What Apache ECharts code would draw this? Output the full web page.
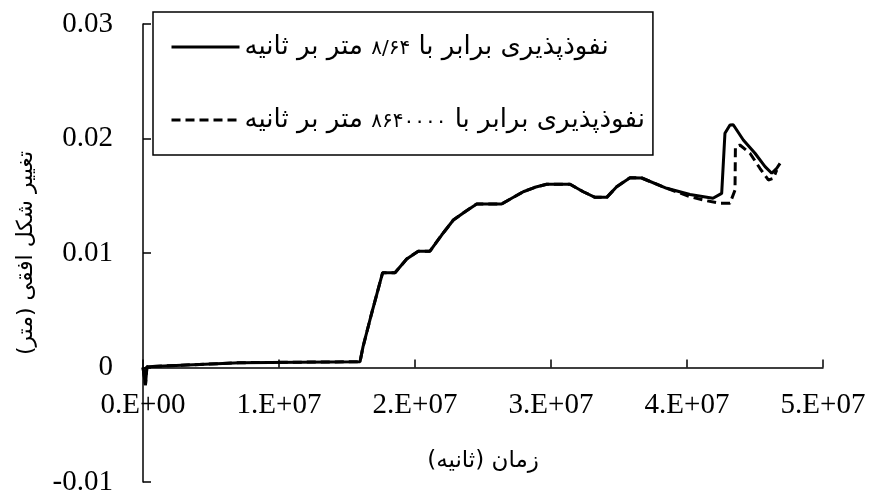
<!DOCTYPE html>
<html>
<head>
<meta charset="utf-8">
<script src="https://cdn.jsdelivr.net/npm/echarts@6/dist/echarts.min.js"></script>
<style>html,body{margin:0;padding:0;background:#fff}#c{width:869px;height:497px}</style>
</head>
<body>
<div id="c"></div>
<script>
// time (s)
const xSolid = [0, 1.8e5, 2.9e5, 7.13e6, 1.596e7, 1.618e7, 1.682e7, 1.762e7, 1.853e7, 1.939e7, 2.024e7, 2.110e7, 2.196e7, 2.282e7, 2.368e7, 2.454e7, 2.637e7, 2.711e7, 2.796e7, 2.882e7, 2.968e7, 3.140e7, 3.237e7, 3.324e7, 3.410e7, 3.483e7, 3.581e7, 3.667e7, 3.851e7, 4.022e7, 4.191e7, 4.255e7, 4.279e7, 4.316e7, 4.340e7, 4.414e7, 4.500e7, 4.574e7, 4.623e7, 4.660e7, 4.684e7];
// horizontal deformation (m), permeability 8.64 m/s
const ySolid = [0, -0.00153, 0.00007, 0.00042, 0.00051, 0.00182, 0.00476, 0.00828, 0.00828, 0.00948, 0.01016, 0.01016, 0.01157, 0.01288, 0.01361, 0.01428, 0.01428, 0.01478, 0.01535, 0.01574, 0.0160, 0.0160, 0.01535, 0.01486, 0.01486, 0.01579, 0.01658, 0.01655, 0.01565, 0.01511, 0.01478, 0.01521, 0.02045, 0.02118, 0.0212, 0.01987, 0.01871, 0.01754, 0.01696, 0.0174, 0.01783];
const xDashed = [0, 1.8e5, 2.9e5, 7.13e6, 1.596e7, 1.618e7, 1.682e7, 1.762e7, 1.853e7, 1.939e7, 2.024e7, 2.110e7, 2.196e7, 2.282e7, 2.368e7, 2.454e7, 2.637e7, 2.711e7, 2.796e7, 2.882e7, 2.968e7, 3.140e7, 3.237e7, 3.324e7, 3.410e7, 3.483e7, 3.581e7, 3.667e7, 3.851e7, 4.022e7, 4.132e7, 4.242e7, 4.316e7, 4.353e7, 4.356e7, 4.389e7, 4.463e7, 4.536e7, 4.598e7, 4.635e7, 4.660e7];
// permeability 8640000 m/s
const yDashed = [0, -0.00153, 0.00007, 0.00042, 0.00051, 0.00182, 0.00476, 0.00828, 0.00828, 0.00948, 0.01016, 0.01016, 0.01157, 0.01288, 0.01361, 0.01428, 0.01428, 0.01478, 0.01535, 0.01574, 0.0160, 0.0160, 0.01535, 0.01486, 0.01486, 0.01579, 0.01658, 0.01655, 0.01565, 0.01492, 0.01459, 0.01434, 0.01434, 0.0155, 0.01928, 0.01943, 0.01871, 0.0174, 0.01638, 0.01652, 0.01725];

const seriesNames = ['نفوذپذیری برابر با ۸/۶۴ متر بر ثانیه', 'نفوذپذیری برابر با ۸۶۴۰۰۰۰ متر بر ثانیه'];
const xTitle = 'زمان (ثانیه)';
const yTitle = 'تغییر شکل افقی (متر)';

const zip = (xs, ys) => xs.map((x, i) => [x, ys[i]]);
const serif = "'Liberation Serif', 'DejaVu Serif', serif";
const fa = "'DejaVu Sans', sans-serif";

// legend label: pieces laid out in visual (left-to-right) order, digits set slightly smaller
function legendLabel(name) {
  const m = name.match(/^(.*?)\s*([۰-۹\/]+)\s*(.*)$/);
  if (!m) return '{t|' + name + '}';
  return '{t|' + m[3] + ' }{d|' + m[2] + '}{t| ' + m[1] + '}';
}

const chart = echarts.init(document.getElementById('c'), null, {renderer: 'canvas'});
chart.setOption({
  animation: false,
  backgroundColor: '#fff',
  grid: {left: 143, right: 46, top: 24, bottom: 15, containLabel: false, outerBoundsMode: 'none'},
  legend: {
    orient: 'vertical', left: 153, top: 12,
    padding: [22, 8, 22, 17],
    itemWidth: 68, itemHeight: 20, itemGap: 47,
    borderColor: '#000', borderWidth: 1.5,
    itemStyle: {color: 'transparent', borderColor: 'transparent', borderWidth: 0},
    lineStyle: {width: 3},
    formatter: legendLabel,
    textStyle: {fontFamily: fa, fontSize: 26, color: '#000',
      rich: {
        t: {fontFamily: fa, fontSize: 26, color: '#000', lineHeight: 30},
        d: {fontFamily: fa, fontSize: 20, color: '#000', lineHeight: 30, padding: [4, 0, 0, 0]}
      }},
    data: seriesNames
  },
  xAxis: {
    type: 'value', min: 0, max: 5e7, interval: 1e7,
    name: xTitle, nameLocation: 'middle', nameGap: -32,
    nameTextStyle: {fontFamily: fa, fontSize: 23, color: '#000'},
    axisLine: {onZero: true, lineStyle: {color: '#000', width: 1.5}},
    axisTick: {inside: true, length: 8, lineStyle: {color: '#000', width: 1.5}},
    axisLabel: {margin: -91, fontFamily: serif, fontSize: 29, color: '#000',
      formatter: v => v === 0 ? '0.E+00' : Math.round(v / 1e7) + '.E+07'},
    splitLine: {show: false}
  },
  yAxis: {
    type: 'value', min: -0.01, max: 0.03, interval: 0.01,
    name: yTitle, nameLocation: 'middle', nameGap: 106, nameRotate: 90,
    nameTextStyle: {fontFamily: fa, fontSize: 22, color: '#000'},
    axisLine: {show: true, lineStyle: {color: '#000', width: 1.5}},
    axisTick: {show: true, inside: true, length: 8, lineStyle: {color: '#000', width: 1.5}},
    axisLabel: {margin: 30, fontFamily: serif, fontSize: 29, color: '#000',
      formatter: v => Math.abs(v) < 1e-9 ? '0' : v.toFixed(2)},
    splitLine: {show: false}
  },
  series: [
    {name: seriesNames[0], type: 'line', data: zip(xSolid, ySolid), symbol: 'none',
     lineStyle: {color: '#000', width: 3}, itemStyle: {color: '#000'}, z: 3},
    {name: seriesNames[1], type: 'line', data: zip(xDashed, yDashed), symbol: 'none',
     lineStyle: {color: '#000', width: 3, type: [9, 5]}, itemStyle: {color: '#000'}, z: 2}
  ]
});
</script>
</body>
</html>
